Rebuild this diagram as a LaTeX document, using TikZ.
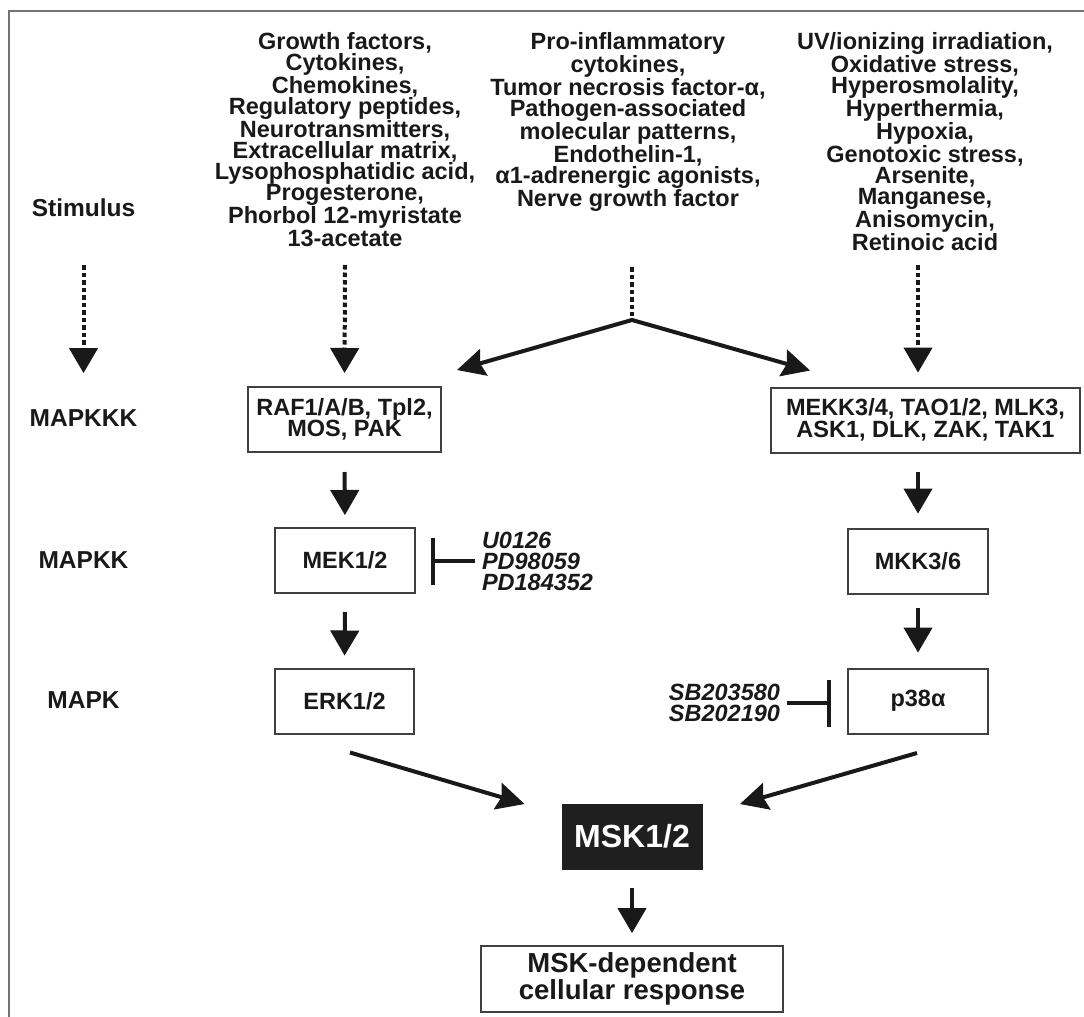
\documentclass[tikz,border=0pt]{standalone}
\usepackage{fontspec}
\setmainfont{Liberation Sans}
\usetikzlibrary{arrows.meta}
\begin{document}
\begin{tikzpicture}[x=1pt,y=-1pt,
  every node/.style={inner sep=0pt, outer sep=0pt, text=black!90},
  lbl/.style={font=\fontsize{24.5}{24}\selectfont\bfseries},
  stimtext/.style={font=\fontsize{23.5}{21.1}\selectfont\bfseries, align=center, anchor=north},
  kbox/.style={draw=black!75, line width=2pt, minimum height=65pt, font=\fontsize{23.5}{21.5}\selectfont\bfseries, align=center},
  inhtext/.style={font=\fontsize{23.5}{21}\selectfont\bfseries\itshape},
  arr/.style={line width=4pt, draw=black!90, -{Triangle[length=25pt,width=29pt,line width=1pt]}},
  darr/.style={arr, dash pattern=on 4.5pt off 3pt},
  sarrs/.style={line width=4pt, draw=black!90, line join=miter, {Stealth[length=28pt,width=28pt,inset=4pt,line width=1pt]}-{Stealth[length=28pt,width=28pt,inset=4pt,line width=1pt]}},
  sarr/.style={line width=4pt, draw=black!90, -{Stealth[length=28pt,width=28pt,inset=4pt,line width=1pt]}},
  inh/.style={line width=4pt, draw=black!90, -{Bar[width=47pt]}},
]
\useasboundingbox (0,0) rectangle (1084,1017);
% frame
\draw[black!55, line width=2.5pt] (9,1017) -- (9,11) -- (1084,11);

% row labels
\node[lbl] (stim) at (83.5,208) {Stimulus};
\node[lbl] (lkkk) at (83.5,418) {MAPKKK};
\node[lbl] (lkk) at (83.5,560) {MAPKK};
\node[lbl] (lk) at (83.5,700) {MAPK};

% stimuli
\node[stimtext] (gf) at (345,32.5) {Growth factors,\\Cytokines,\\Chemokines,\\Regulatory peptides,\\Neurotransmitters,\\Extracellular matrix,\\Lysophosphatidic acid,\\Progesterone,\\Phorbol 12-myristate\\13-acetate};
\node[stimtext] (pi) at (628,32.5) {Pro-inflammatory\\cytokines,\\Tumor necrosis factor-α,\\Pathogen-associated\\molecular patterns,\\Endothelin-1,\\α1-adrenergic agonists,\\Nerve growth factor};
\node[stimtext] (uv) at (925,32.5) {UV/ionizing irradiation,\\Oxidative stress,\\Hyperosmolality,\\Hyperthermia,\\Hypoxia,\\Genotoxic stress,\\Arsenite,\\Manganese,\\Anisomycin,\\Retinoic acid};

% kinase boxes
\node[kbox, minimum width=193pt] (raf) at (344.5,419.5) {RAF1/A/B, Tpl2,\\MOS, PAK};
\node[kbox, minimum width=140pt] (mek) at (345,560.5) {MEK1/2};
\node[kbox, minimum width=139pt] (erk) at (344.5,701) {ERK1/2};
\node[kbox, minimum width=309pt] (mekk) at (925.5,420) {MEKK3/4, TAO1/2, MLK3,\\ASK1, DLK, ZAK, TAK1};
\node[kbox, minimum width=140pt] (mkk) at (918,561) {MKK3/6};
\node[kbox, minimum width=140pt] (p38) at (918,701) {p38α};
\node[fill=black!88, draw=black!88, minimum width=140pt, minimum height=65pt, text=white, font=\fontsize{32}{32}\selectfont\bfseries] (msk) at (632,836.5) {MSK1/2};
\node[kbox, minimum width=302pt, minimum height=66pt, font=\fontsize{27.5}{24}\selectfont\bfseries] (resp) at (632,979) {MSK-dependent\\cellular response};

% inhibitors
\node[inhtext, align=left, anchor=west] (u0) at (482,561) {U0126\\PD98059\\PD184352};
\node[inhtext, align=right, anchor=east] (sb) at (780,703) {SB203580\\SB202190};

% helper coordinates
\coordinate (dtop) at (0,265);
\coordinate (dmid) at (0,267);
\coordinate (branch) at (632,320);
\coordinate (tipL) at ([shift={(16,-17)}]raf.north east);
\coordinate (tipR) at ([shift={(39,-17)}]mekk.north west);
\coordinate (eS) at ([shift={(5.5,19)}]erk.south);
\coordinate (eT) at ([shift={(-37.5,0)}]msk.north west);
\coordinate (pS) at ([shift={(-1,19.5)}]p38.south);
\coordinate (pT) at ([shift={(38,0)}]msk.north east);

% stimulus arrows (dotted)
\draw[darr, shorten <=57pt, shorten >=45pt] (stim.center) -- (lkkk.center);
\draw[darr, shorten >=14pt] (gf.south |- dtop) -- (raf.north);
\draw[darr, shorten >=15pt] (mkk.north |- dtop) -- (mkk.north |- mekk.north);
\draw[line width=4pt, draw=black!90, dash pattern=on 4.5pt off 3pt] (branch |- dmid) -- ([yshift=4pt]branch);
\draw[sarrs] (tipL) -- (branch) -- (tipR);

% cascade arrows
\draw[arr, shorten <=20pt, shorten >=13pt] (raf.south) -- (mek.north);
\draw[arr, shorten <=19pt, shorten >=13pt] (mek.south) -- (erk.north);
\draw[arr, shorten <=19pt, shorten >=15pt] (mkk.north |- mekk.south) -- (mkk.north);
\draw[arr, shorten <=14pt, shorten >=16pt] (mkk.south) -- (p38.north);
\draw[sarr] (eS) -- (eT);
\draw[sarr] (pS) -- (pT);
\draw[arr, shorten <=19pt, shorten >=13pt] (msk.south) -- (resp.north);

% inhibition
\draw[inh, shorten <=7pt, shorten >=16pt] (u0.west) -- (u0.west -| mek.east);
\draw[inh, shorten <=7pt, shorten >=17pt] (sb.east) -- (sb.east -| p38.west);
\end{tikzpicture}
\end{document}
